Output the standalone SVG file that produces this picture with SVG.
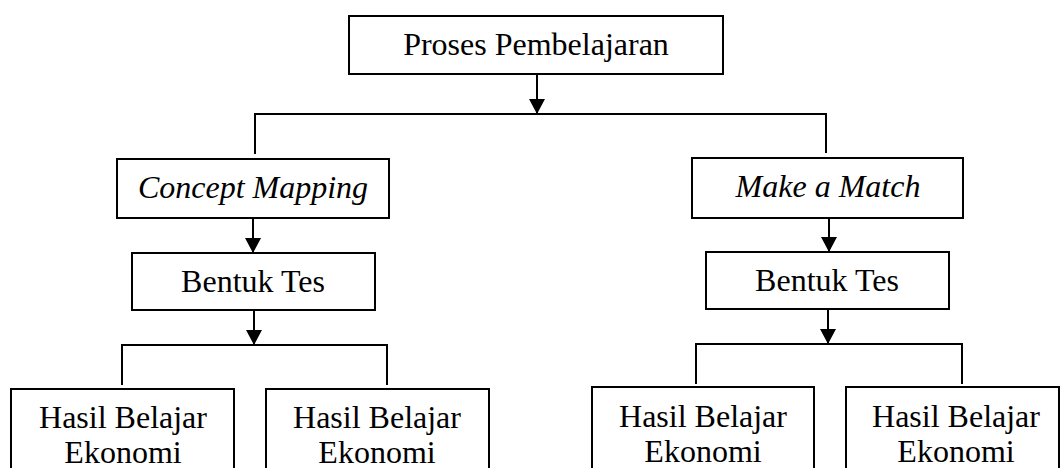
<svg xmlns="http://www.w3.org/2000/svg" width="1061" height="468" viewBox="0 0 1061 468">
<defs>
<marker id="ah" markerUnits="userSpaceOnUse" markerWidth="18" markerHeight="18" refX="15" refY="8.5" orient="auto">
<path d="M0,0.5 L15,8.5 L0,16.5 z" fill="#000"/>
</marker>
<style>
.box{fill:#fff;stroke:#000;stroke-width:2}
.t{font-family:"Liberation Serif","Times New Roman",serif;font-size:32px;fill:#000;text-anchor:middle}
.i{font-style:italic}
.c{fill:none;stroke:#000;stroke-width:2}
.a{fill:none;stroke:#000;stroke-width:2;marker-end:url(#ah)}
</style>
</defs>
<rect width="1061" height="468" fill="#fff"/>
<g id="connectors">
<line class="a" x1="537" y1="74" x2="537" y2="114"/>
<polyline class="c" points="255,154 255,114 826,114 826,153"/>
<line class="a" x1="253" y1="218" x2="253" y2="253"/>
<line class="a" x1="829" y1="218" x2="829" y2="252"/>
<line class="a" x1="254" y1="310" x2="254" y2="345"/>
<polyline class="c" points="122,385 122,345 387,345 387,385"/>
<line class="a" x1="828" y1="309" x2="828" y2="344"/>
<polyline class="c" points="696,384 696,344 962,344 962,384"/>
</g>
<g id="proses">
<rect class="box" x="349" y="16" width="374" height="58"/>
<text class="t" x="536" y="55">Proses Pembelajaran</text>
</g>
<g id="concept-mapping">
<rect class="box" x="117" y="159" width="272" height="59"/>
<text class="t i" x="253" y="198">Concept Mapping</text>
</g>
<g id="make-a-match">
<rect class="box" x="692" y="158" width="271" height="60"/>
<text class="t i" x="828" y="197">Make a Match</text>
</g>
<g id="bentuk-tes-left">
<rect class="box" x="132" y="253" width="243" height="57"/>
<text class="t" x="253" y="292">Bentuk Tes</text>
</g>
<g id="bentuk-tes-right">
<rect class="box" x="706" y="252" width="243" height="57"/>
<text class="t" x="827" y="291">Bentuk Tes</text>
</g>
<g id="hasil-1">
<rect class="box" x="11" y="389" width="223" height="100"/>
<text class="t" x="123" y="428">Hasil Belajar</text>
<text class="t" x="123" y="463">Ekonomi</text>
</g>
<g id="hasil-2">
<rect class="box" x="266" y="389" width="223" height="100"/>
<text class="t" x="377" y="428">Hasil Belajar</text>
<text class="t" x="377" y="463">Ekonomi</text>
</g>
<g id="hasil-3">
<rect class="box" x="592" y="387" width="222" height="100"/>
<text class="t" x="703" y="427">Hasil Belajar</text>
<text class="t" x="703" y="462">Ekonomi</text>
</g>
<g id="hasil-4">
<rect class="box" x="846" y="387" width="213" height="100"/>
<text class="t" x="956" y="427">Hasil Belajar</text>
<text class="t" x="956" y="462">Ekonomi</text>
</g>
</svg>
